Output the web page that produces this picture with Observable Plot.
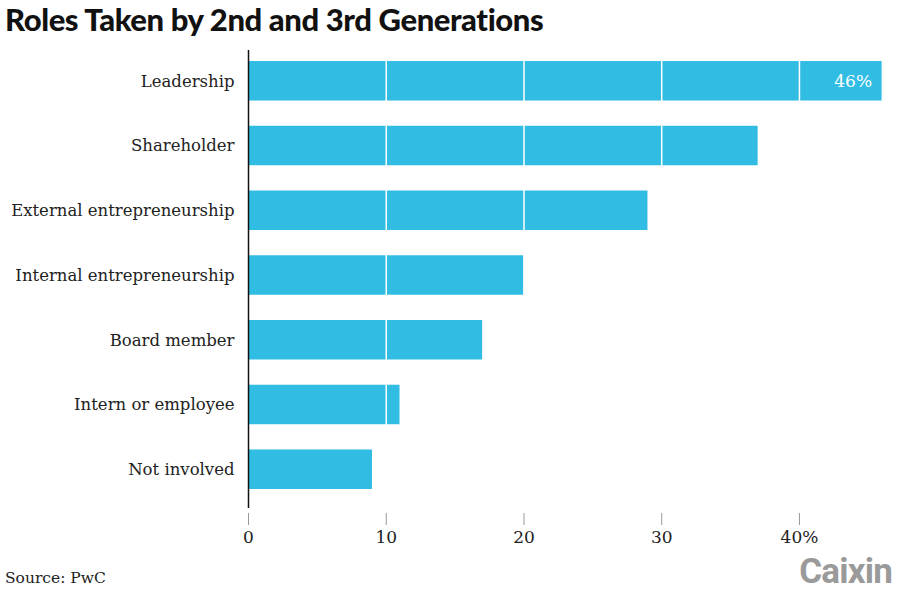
<!DOCTYPE html>
<html>
<head>
<meta charset="utf-8">
<script src="https://cdn.jsdelivr.net/npm/d3@7"></script>
<script src="https://cdn.jsdelivr.net/npm/@observablehq/plot@0.6"></script>
<style>
  html, body { margin: 0; padding: 0; background: #fff; }
  #wrap { position: relative; width: 900px; height: 599px; overflow: hidden; }
  #title { position: absolute; left: 5px; top: 0px; font-family: Lato, sans-serif; font-weight: 900; font-size: 31px; color: #111; letter-spacing: -0.4px; }
  #chart { position: absolute; left: 0; top: 42px; }
  #source { position: absolute; left: 5px; top: 569px; font-family: "DejaVu Serif", serif; font-size: 15.5px; color: #222; }
  #logo { position: absolute; right: 8px; top: 551px; font-family: Roboto, "Liberation Sans", sans-serif; font-weight: 700; font-size: 35px; color: #9a9a9a; letter-spacing: -0.8px; }
</style>
</head>
<body>
<div id="wrap">
  <div id="title">Roles Taken by 2nd and 3rd Generations</div>
  <div id="chart"></div>
  <div id="source">Source: PwC</div>
  <div id="logo">Caixin</div>
</div>
<script>
const roles = ["Leadership", "Shareholder", "External entrepreneurship", "Internal entrepreneurship", "Board member", "Intern or employee", "Not involved"];
const shares = [46, 37, 29, 20, 17, 11, 9];
const xTicks = [0, 10, 20, 30, 40];
const xTickLabels = ["0", "10", "20", "30", "40%"];
const gridValues = [10, 20, 30, 40];

const data = roles.map((r, i) => ({role: r, value: shares[i]}));
const serif = "DejaVu Serif, serif";

const chart = Plot.plot({
  width: 900,
  height: 515,
  marginLeft: 248,
  marginRight: 18,
  marginTop: 8,
  marginBottom: 49,
  style: {fontFamily: serif, fontSize: "16px", color: "#222", background: "transparent"},
  x: {domain: [0, 46], range: [248, 881.6]},
  y: {domain: roles, range: [6.4, 459.6], paddingInner: 0.39, paddingOuter: 0.195, align: 0.5, round: false, label: null},
  marks: [
    Plot.barX(data, {x: "value", y: "role", fill: "#31bde3"}),
    Plot.ruleX(gridValues, {stroke: "#fff", strokeWidth: 1.5}),
    Plot.ruleX([0], {stroke: "#111", strokeWidth: 1.5}),
    Plot.text(data.filter((d, i) => i === 0), {x: "value", y: "role", text: d => d.value + "%", fill: "#fff", textAnchor: "end", dx: -10, fontSize: 17}),
    Plot.axisY({tickSize: 0, tickPadding: 14, fontSize: 16.5, label: null, fill: "#222"}),
    Plot.axisX({ticks: xTicks, tickFormat: (d) => xTickLabels[xTicks.indexOf(d)], tickSize: 12, tickPadding: 5, dy: 5, stroke: "#999", fill: "#222", fontSize: 17, label: null})
  ]
});
document.getElementById("chart").appendChild(chart);
</script>
</body>
</html>
